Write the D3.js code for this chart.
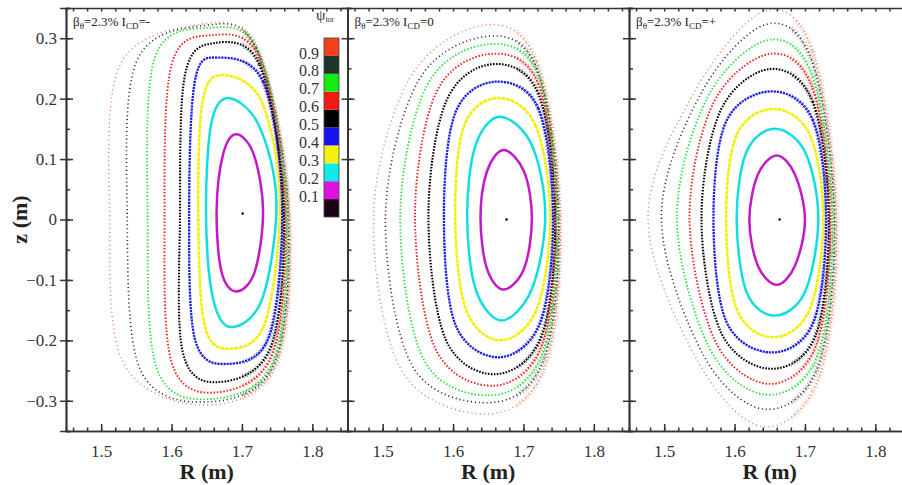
<!DOCTYPE html>
<html>
<head>
<meta charset="utf-8">
<script src="https://cdn.jsdelivr.net/npm/d3@7"></script>
<style>
  html, body { margin: 0; padding: 0; background: #fff; }
  svg { display: block; }
  svg text { font-family: "Liberation Serif", "Times New Roman", serif; }
</style>
</head>
<body>
<svg id="chart" width="902" height="485"></svg>
<script>
// flux surface levels (psi_tor) and the colour bar
const psiLevels = [0.1, 0.2, 0.3, 0.4, 0.5, 0.6, 0.7, 0.8, 0.9];
const surfaceColors = ["#c21ac8", "#12dede", "#f0f000", "#1c1ce0", "#000000", "#ee1c1c", "#22dd33", "#2a2a2a", "#e8784e"];
const barColors = ["#1c0418", "#e010e0", "#10eaea", "#f4f010", "#1414f0", "#000000", "#f01a10", "#12ee12", "#1e3428", "#f2401c"];
const barTicks = [0.1, 0.2, 0.3, 0.4, 0.5, 0.6, 0.7, 0.8, 0.9];
const panelCD = ["-", "0", "+"];
const axisPoints = [[1.701, 0.010], [1.676, 0.0], [1.664, 0.0]];
const xTicks = [1.5, 1.6, 1.7, 1.8];
const yTicks = [-0.3, -0.2, -0.1, 0, 0.1, 0.2, 0.3];

// surface points: top, upper-right, right, lower-right,
// bottom, lower-left, left, upper-left  [R, z]
const surfMinus = [
  [[1.692,0.141],[1.717,0.107],[1.730,0.013],[1.718,-0.087],[1.692,-0.119],[1.671,-0.087],[1.664,0.013],[1.673,0.107]],
  [[1.680,0.201],[1.724,0.156],[1.749,0.029],[1.729,-0.131],[1.685,-0.178],[1.659,-0.131],[1.649,0.007],[1.656,0.156]],
  [[1.673,0.239],[1.728,0.195],[1.754,0.029],[1.733,-0.170],[1.683,-0.214],[1.647,-0.175],[1.638,0.007],[1.644,0.195]],
  [[1.666,0.268],[1.730,0.228],[1.757,0.029],[1.739,-0.192],[1.678,-0.239],[1.633,-0.197],[1.625,0.007],[1.633,0.228]],
  [[1.661,0.292],[1.725,0.256],[1.759,0.029],[1.742,-0.208],[1.668,-0.269],[1.616,-0.220],[1.612,0.007],[1.619,0.239]],
  [[1.657,0.305],[1.725,0.267],[1.761,0.029],[1.744,-0.220],[1.664,-0.286],[1.600,-0.236],[1.590,0.007],[1.600,0.256]],
  [[1.652,0.317],[1.723,0.278],[1.763,0.029],[1.746,-0.231],[1.657,-0.297],[1.579,-0.247],[1.566,0.007],[1.576,0.267]],
  [[1.647,0.321],[1.720,0.284],[1.765,0.029],[1.747,-0.236],[1.650,-0.302],[1.555,-0.247],[1.537,0.007],[1.550,0.261]],
  [[1.642,0.323],[1.718,0.286],[1.766,0.029],[1.749,-0.239],[1.645,-0.307],[1.531,-0.236],[1.512,0.007],[1.527,0.256]]
];
const surfZero = [
  [[1.672,0.115],[1.701,0.079],[1.712,0.002],[1.701,-0.081],[1.672,-0.116],[1.648,-0.081],[1.639,0.002],[1.648,0.079]],
  [[1.667,0.170],[1.712,0.123],[1.731,0.007],[1.712,-0.115],[1.669,-0.167],[1.632,-0.115],[1.620,0.007],[1.632,0.123]],
  [[1.665,0.201],[1.717,0.156],[1.738,0.007],[1.719,-0.148],[1.667,-0.200],[1.618,-0.148],[1.603,0.007],[1.616,0.156]],
  [[1.660,0.228],[1.721,0.184],[1.742,0.007],[1.724,-0.170],[1.665,-0.228],[1.603,-0.173],[1.587,0.007],[1.603,0.176]],
  [[1.655,0.257],[1.721,0.209],[1.745,0.007],[1.726,-0.192],[1.660,-0.256],[1.589,-0.197],[1.565,0.007],[1.590,0.195]],
  [[1.653,0.274],[1.721,0.225],[1.746,0.007],[1.727,-0.206],[1.658,-0.275],[1.575,-0.214],[1.546,0.007],[1.576,0.210]],
  [[1.650,0.290],[1.721,0.239],[1.748,0.007],[1.728,-0.219],[1.655,-0.291],[1.558,-0.231],[1.525,0.007],[1.563,0.222]],
  [[1.648,0.303],[1.719,0.250],[1.750,0.007],[1.729,-0.231],[1.653,-0.303],[1.542,-0.242],[1.504,0.007],[1.551,0.230]],
  [[1.646,0.322],[1.719,0.261],[1.752,0.007],[1.731,-0.242],[1.650,-0.322],[1.527,-0.250],[1.487,0.007],[1.540,0.237]]
];
const surfPlus = [
  [[1.660,0.106],[1.686,0.074],[1.700,-0.001],[1.686,-0.076],[1.660,-0.108],[1.633,-0.076],[1.621,-0.001],[1.633,0.074]],
  [[1.657,0.150],[1.700,0.112],[1.719,0.002],[1.700,-0.120],[1.657,-0.159],[1.617,-0.120],[1.603,0.002],[1.617,0.112]],
  [[1.655,0.183],[1.707,0.140],[1.726,0.002],[1.707,-0.148],[1.655,-0.195],[1.603,-0.148],[1.588,0.002],[1.603,0.140]],
  [[1.652,0.212],[1.711,0.165],[1.730,0.002],[1.712,-0.170],[1.652,-0.220],[1.588,-0.168],[1.570,0.002],[1.588,0.162]],
  [[1.650,0.249],[1.711,0.195],[1.734,0.002],[1.715,-0.192],[1.650,-0.247],[1.580,-0.185],[1.553,0.002],[1.580,0.180]],
  [[1.650,0.274],[1.711,0.217],[1.736,0.002],[1.716,-0.208],[1.648,-0.272],[1.572,-0.200],[1.536,0.002],[1.570,0.193]],
  [[1.648,0.297],[1.711,0.236],[1.739,0.002],[1.718,-0.225],[1.645,-0.290],[1.564,-0.212],[1.518,0.002],[1.562,0.203]],
  [[1.645,0.323],[1.711,0.259],[1.742,0.002],[1.719,-0.242],[1.643,-0.314],[1.556,-0.225],[1.496,0.002],[1.553,0.210]],
  [[1.643,0.345],[1.711,0.278],[1.745,0.002],[1.721,-0.258],[1.641,-0.343],[1.548,-0.235],[1.477,0.002],[1.545,0.215]]
];
const panelSurfaces = [surfMinus, surfZero, surfPlus];

// line look of each surface (dense inside, sparse outside)
const strokeW = [2.5, 2.5, 2.5, 2.3, 2.1, 1.9, 1.8, 1.6, 1.4];
const dashes = ["none", "none", "4 0.7", "2.2 0.9", "1.6 1.4", "1.5 1.8", "1.4 2", "1.1 2.8", "1 3.2"];
const hatchFrom = [1.70, 1.69, 1.68];

const svg = d3.select("#chart");
const plotTop = 8, plotBottom = 431, left0 = 66, panelW = 281.5;
const axisColor = "#333";
const serif = "Liberation Serif, Times New Roman, serif";

const y = d3.scaleLinear().domain([-0.35, 0.35]).range([plotBottom, plotTop]);
const defs = svg.append("defs");

panelSurfaces.forEach((surfs, p) => {
  const x0 = left0 + p * panelW;
  const x = d3.scaleLinear().domain([1.45, 1.85]).range([x0, x0 + panelW]);
  const g = svg.append("g");

  defs.append("clipPath").attr("id", "hatch" + p)
    .append("rect")
    .attr("x", x(hatchFrom[p])).attr("y", y(0.33))
    .attr("width", x(1.85) - x(hatchFrom[p])).attr("height", y(-0.33) - y(0.33));

  const line = d3.line()
    .x(d => x(d[0])).y(d => y(d[1]))
    .curve(d3.curveCatmullRomClosed.alpha(0));

  // radial streaks on the outboard side
  g.append("g").attr("clip-path", `url(#hatch${p})`)
    .selectAll("path").data(surfs.slice(3)).join("path")
    .attr("d", line)
    .attr("fill", "none")
    .attr("stroke", (d, i) => surfaceColors[i + 3])
    .attr("stroke-width", 5)
    .attr("stroke-dasharray", "0.8 2.4")
    .attr("opacity", 0.45);

  g.selectAll("path.surf").data(surfs).join("path")
    .attr("class", "surf")
    .attr("d", line)
    .attr("fill", "none")
    .attr("stroke", (d, i) => surfaceColors[i])
    .attr("stroke-width", (d, i) => strokeW[i])
    .attr("stroke-dasharray", (d, i) => dashes[i]);

  g.append("circle")
    .attr("cx", x(axisPoints[p][0])).attr("cy", y(axisPoints[p][1]))
    .attr("r", 1.2).attr("fill", "#000");

  // axes: bottom, top, left
  const ax = svg.append("g").attr("stroke-width", 1.5);
  ax.append("g").attr("transform", `translate(0,${plotBottom})`)
    .call(d3.axisBottom(x).tickValues(xTicks).tickSizeInner(-7).tickSizeOuter(0).tickPadding(14)
      .tickFormat(d3.format(".1f")));
  ax.append("g").attr("transform", `translate(0,${plotBottom})`)
    .call(d3.axisBottom(x).ticks(20).tickSize(-3.5).tickFormat(""));
  ax.append("g").attr("transform", `translate(0,${plotTop})`)
    .call(d3.axisTop(x).ticks(20).tickSize(-3.5).tickFormat(""));

  ax.append("g").attr("transform", `translate(${x0},0)`)
    .call(d3.axisLeft(y).tickValues(yTicks).tickSizeInner(-7).tickSizeOuter(0).tickPadding(9)
      .tickFormat(p === 0 ? d => d3.format(".1f")(d).replace("-", "\u2212").replace(/^0\.0$/, "0") : ""));
  ax.append("g").attr("transform", `translate(${x0},0)`)
    .call(d3.axisLeft(y).tickValues(yTicks).tickSize(6).tickFormat(""));
  ax.append("g").attr("transform", `translate(${x0},0)`)
    .call(d3.axisLeft(y).ticks(14).tickSize(-4).tickFormat(""));
  ax.selectAll("g").attr("font-family", serif).attr("font-size", 17);
  ax.selectAll("text").attr("fill", "#333");
  ax.selectAll(".domain").attr("stroke", axisColor);
  ax.selectAll(".tick line").attr("stroke", axisColor);

  // panel title
  const t = svg.append("text").attr("x", x0 + 7).attr("y", 26)
    .attr("font-size", 13).attr("fill", "#222");
  t.append("tspan").text("\u03b2");
  t.append("tspan").attr("font-size", 9).attr("dy", 3).text("\u03b8");
  t.append("tspan").attr("dy", -3).text("=2.3% I");
  t.append("tspan").attr("font-size", 9).attr("dy", 3).text("CD");
  t.append("tspan").attr("dy", -3).text("=" + panelCD[p]);

  svg.append("text").attr("x", x0 + panelW / 2).attr("y", 479)
    .attr("text-anchor", "middle").attr("font-size", 22).attr("font-weight", "bold")
    .attr("fill", "#222").text("R (m)");
});

svg.append("text")
  .attr("transform", `translate(27,${y(0)}) rotate(-90)`)
  .attr("text-anchor", "middle").attr("font-size", 22).attr("font-weight", "bold")
  .attr("fill", "#222").text("z (m)");

// colour bar
const cb = d3.scaleLinear().domain([0, 1]).range([217, 38]);
const bar = svg.append("g");
bar.selectAll("rect").data(barColors).join("rect")
  .attr("x", 324).attr("width", 15)
  .attr("y", (d, i) => cb((i + 1) / 10))
  .attr("height", (d, i) => cb(i / 10) - cb((i + 1) / 10))
  .attr("fill", d => d);
bar.append("rect").attr("x", 324).attr("width", 15).attr("y", cb(1)).attr("height", cb(0) - cb(1))
  .attr("fill", "none").attr("stroke", "#444").attr("stroke-width", 0.8);
bar.selectAll("text").data(barTicks).join("text")
  .attr("x", 319).attr("y", d => cb(d) - 3).attr("dy", "0.35em")
  .attr("text-anchor", "end").attr("font-size", 16).attr("fill", "#333")
  .text(d => d3.format(".1f")(d));
const ct = bar.append("text").attr("x", 316).attr("y", 20).attr("font-size", 15).attr("fill", "#333");
ct.append("tspan").text("\u03c8");
ct.append("tspan").attr("font-size", 8).attr("dy", 2).text("tor");
</script>
</body>
</html>
